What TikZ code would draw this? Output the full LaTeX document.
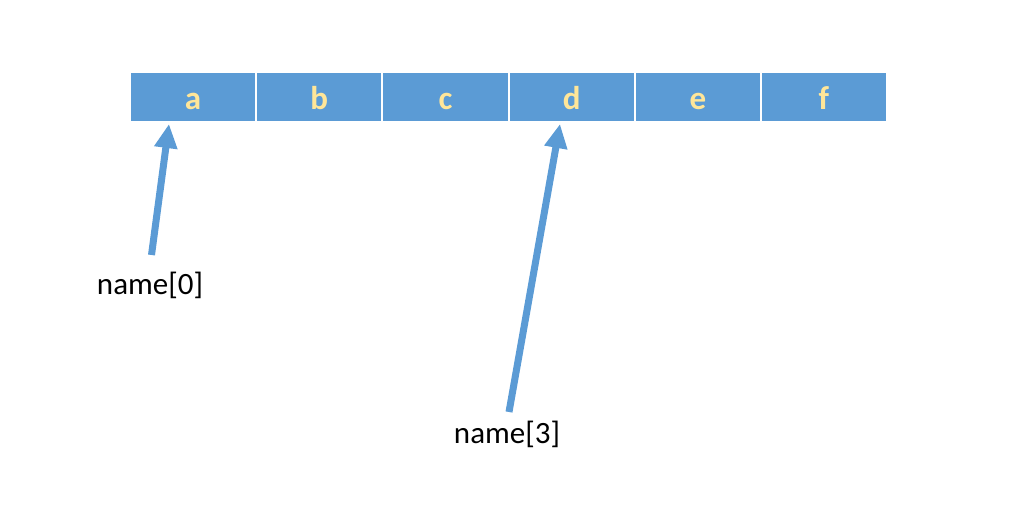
\documentclass[tikz,border=0pt]{standalone}
\usepackage{fontspec}
\setmainfont{Carlito}
\usetikzlibrary{arrows.meta}
\definecolor{cellblue}{HTML}{5B9BD5}
\definecolor{cellyellow}{HTML}{FFE699}
\begin{document}
\begin{tikzpicture}[x=1pt,y=-1pt,
  cell/.style={draw=white, line width=2pt, fill=cellblue, minimum width=126.2pt,
    minimum height=50pt, inner sep=0pt, outer sep=0pt, text=cellyellow,
    text height=25pt, text depth=0pt,
    font=\fontsize{33}{33}\selectfont\bfseries},
  lbl/.style={font=\fontsize{31}{31}\selectfont, inner sep=0pt, anchor=base},
  ptr/.style={draw=cellblue, line width=7pt, -{Triangle[length=24pt,width=22pt]}}]
\useasboundingbox (0,0) rectangle (1014,510);
\node[cell] (ca) at (193.1,97.5) {a};
\node[cell] (cb) at (319.3,97.5) {b};
\node[cell] (cc) at (445.4,97.5) {c};
\node[cell] (cd) at (571.6,97.5) {d};
\node[cell] (ce) at (697.8,97.5) {e};
\node[cell] (cf) at (823.9,97.5) {f};
\node[lbl] (l0) at (150,295) {name[0]};
\node[lbl] (l3) at (507,443) {name[3]};
\coordinate (s0) at (151.5,255);
\coordinate (t0) at (169,124);
\coordinate (s3) at (509,412);
\coordinate (t3) at (560,124);
\draw[ptr] (s0) -- (t0);
\draw[ptr] (s3) -- (t3);
\end{tikzpicture}
\end{document}
